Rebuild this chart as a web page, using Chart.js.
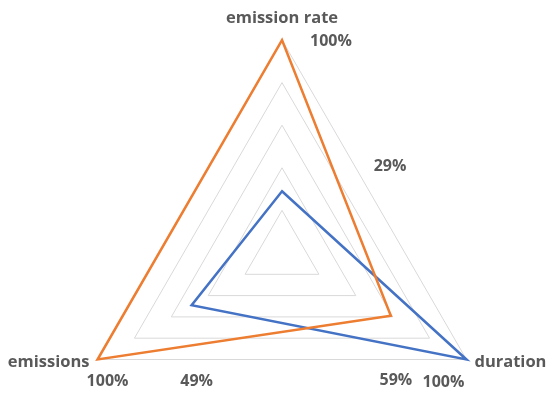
<!DOCTYPE html>
<html lang="en">
<head>
    <meta charset="UTF-8">
    <title>Radar</title>
    <style>
        html, body { margin: 0; padding: 0; background: #ffffff; }
        .container { width: 550px; height: 397px; position: relative; }
    </style>
</head>
<body>
    <div class="container">
        <canvas id="grafica" width="550" height="397"></canvas>
    </div>

    <script src="https://cdn.jsdelivr.net/npm/chart.js"></script>
    <script>
        const categorias = ['emission rate', 'duration', 'emissions'];
        const serieNaranja = [100, 59, 100];
        const serieAzul = [29, 100, 49];
        const ticks = [0, 20, 40, 60, 80, 100];

        // where each data label sits relative to its point (Excel-like placement)
        const offsetsNaranja = [[49, 1], [5, 65], [10, 22]];
        const offsetsAzul = [[108, -25], [-23, 23], [5, 76]];

        const colorTexto = '#595959';
        const fuente = '"Open Sans", "Liberation Sans", sans-serif';

        // fix the radial scale geometry like the original
        const geometria = {
            id: 'geometria',
            afterLayout(chart) {
                const r = chart.scales.r;
                r.xCenter = 282;
                r.yCenter = 253;
                r.drawingArea = 213;
            }
        };

        const etiquetas = {
            id: 'etiquetas',
            afterDatasetsDraw(chart) {
                const ctx = chart.ctx;
                const r = chart.scales.r;
                ctx.save();
                ctx.fillStyle = colorTexto;

                // axis names
                ctx.font = 'bold 16.5px ' + fuente;
                ctx.textBaseline = 'middle';
                categorias.forEach((c, i) => {
                    const p = r.getPointPositionForValue(i, 100);
                    if (i === 0) {
                        ctx.textAlign = 'center';
                        ctx.fillText(c, p.x, p.y - 22);
                    } else if (i === 1) {
                        ctx.textAlign = 'left';
                        ctx.fillText(c, p.x + 8, p.y + 3);
                    } else {
                        ctx.textAlign = 'right';
                        ctx.fillText(c, p.x - 8, p.y + 3);
                    }
                });

                // value labels
                ctx.font = 'bold 16px ' + fuente;
                ctx.textAlign = 'center';
                const offs = [offsetsNaranja, offsetsAzul];
                chart.data.datasets.forEach((ds, d) => {
                    const meta = chart.getDatasetMeta(d);
                    meta.data.forEach((pt, i) => {
                        const o = offs[d][i];
                        ctx.fillText(ds.data[i] + '%', pt.x + o[0], pt.y + o[1]);
                    });
                });
                ctx.restore();
            }
        };

        const ctx = document.getElementById('grafica').getContext('2d');
        const grafica = new Chart(ctx, {
            type: 'radar',
            data: {
                labels: categorias,
                datasets: [{
                    label: 'Serie 1',
                    data: serieNaranja,
                    borderColor: '#ED7D31',
                    backgroundColor: 'rgba(0,0,0,0)',
                    borderWidth: 2.5,
                    pointRadius: 0,
                    fill: false
                }, {
                    label: 'Serie 2',
                    data: serieAzul,
                    borderColor: '#4472C4',
                    backgroundColor: 'rgba(0,0,0,0)',
                    borderWidth: 2.5,
                    pointRadius: 0,
                    fill: false
                }]
            },
            options: {
                responsive: false,
                animation: false,
                plugins: {
                    legend: { display: false },
                    tooltip: { enabled: false }
                },
                elements: { line: { tension: 0, borderJoinStyle: 'miter' } },
                scales: {
                    r: {
                        min: ticks[0],
                        max: ticks[ticks.length - 1],
                        ticks: { stepSize: ticks[1] - ticks[0], display: false },
                        angleLines: { display: false },
                        grid: { color: '#D9D9D9', lineWidth: 1 },
                        pointLabels: { display: false }
                    }
                }
            },
            plugins: [geometria, etiquetas]
        });
    </script>
</body>
</html>
